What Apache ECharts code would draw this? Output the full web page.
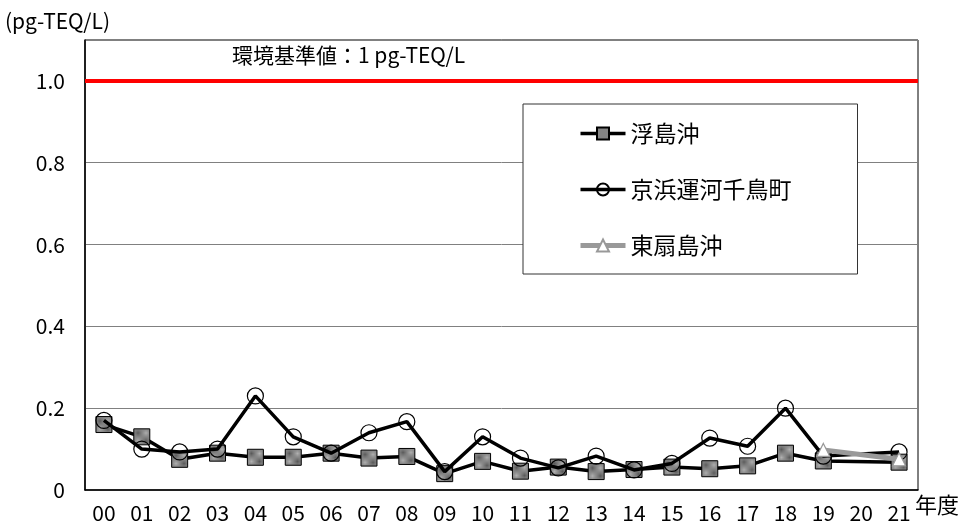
<!DOCTYPE html>
<html><head><meta charset="utf-8">
<script src="https://cdn.jsdelivr.net/npm/echarts@6/dist/echarts.min.js"></script>
<style>html,body{margin:0;padding:0;background:#fff}#c{width:963px;height:526px}</style>
</head><body><div id="c"></div>
<script>
const years = ['00','01','02','03','04','05','06','07','08','09','10','11','12','13','14','15','16','17','18','19','20','21'];
const ukishima = [0.16,0.13,0.075,0.09,0.08,0.08,0.09,0.078,0.082,0.04,0.07,0.046,0.056,0.045,0.05,0.056,0.052,0.059,0.09,0.071,null,0.068];
const chidori = [0.17,0.10,0.093,0.10,0.23,0.13,0.09,0.14,0.167,0.045,0.13,0.078,0.054,0.083,0.049,0.065,0.127,0.107,0.20,0.083,null,0.093];
const higashi = [null,null,null,null,null,null,null,null,null,null,null,null,null,null,null,null,null,null,null,0.098,null,0.075];
const seriesNames = ['浮島沖','京浜運河千鳥町','東扇島沖'];
const standardValue = 1.0;
const standardLabel = '環境基準値：1 pg-TEQ/L';
const yUnit = '(pg-TEQ/L)';
const xUnit = '年度';

const FONT = '"Noto Sans CJK JP", sans-serif';
// checkered pattern for square markers
const pc = document.createElement('canvas');
pc.width = 2; pc.height = 2;
const pctx = pc.getContext('2d');
pctx.fillStyle = '#b0b0b0'; pctx.fillRect(0,0,2,2);
pctx.fillStyle = '#5a5a5a'; pctx.fillRect(0,0,1,1); pctx.fillRect(1,1,1,1);
const pattern = {image: pc, repeat: 'repeat'};

const chart = echarts.init(document.getElementById('c'), null, {renderer: 'canvas'});
chart.setOption({
  animation: false,
  backgroundColor: '#fff',
  textStyle: {fontFamily: FONT, color: '#000'},
  grid: {left: 85, right: 45, top: 40, bottom: 36, show: true, borderColor: '#000', borderWidth: 1},
  xAxis: {
    type: 'category', data: years, boundaryGap: true,
    axisLine: {lineStyle: {color: '#000', width: 1.5}},
    axisTick: {inside: true, length: 6, lineStyle: {color: '#000'}},
    axisLabel: {fontSize: 21, color: '#000', margin: 13, fontFamily: FONT, interval: 0}
  },
  yAxis: {
    type: 'value', min: 0, max: 1.1, interval: 0.2,
    axisLine: {show: true, lineStyle: {color: '#000', width: 1.5}},
    axisTick: {show: false},
    splitLine: {lineStyle: {color: '#808080', width: 1}},
    axisLabel: {fontSize: 21, color: '#000', margin: 20, fontFamily: FONT,
      formatter: v => v > 1.05 ? '' : (v === 0 ? '0' : v.toFixed(1))}
  },
  legend: {
    orient: 'vertical', left: 523, top: 104,
    data: [
      {name: seriesNames[0], lineStyle: {width: 3.5, color: '#000'}},
      {name: seriesNames[1], lineStyle: {width: 3.5, color: '#000'}},
      {name: seriesNames[2], lineStyle: {width: 5, color: '#999'}}
    ],
    backgroundColor: '#fff', borderColor: '#333', borderWidth: 1,
    padding: [18, 66, 17, 55],
    itemWidth: 45, itemHeight: 15, itemGap: 33,
    textStyle: {fontSize: 23, color: '#000', fontFamily: FONT}
  },
  graphic: [
    {type: 'text', left: 5, top: 11, style: {text: yUnit, font: '21px ' + FONT, fill: '#000'}},
    {type: 'text', left: 232, top: 45, style: {text: standardLabel, font: '21px ' + FONT, fill: '#000'}},
    {type: 'text', left: 915, top: 494, style: {text: xUnit, font: '22px ' + FONT, fill: '#000'}}
  ],
  series: [
    {
      name: seriesNames[0], type: 'line', data: ukishima, connectNulls: true,
      symbol: 'rect', symbolSize: 16,
      lineStyle: {color: '#000', width: 3.5},
      itemStyle: {color: pattern, borderColor: '#000', borderWidth: 1},
      markLine: {
        silent: true, symbol: 'none', label: {show: false},
        lineStyle: {color: '#ff0000', width: 4, type: 'solid'},
        data: [{yAxis: standardValue}]
      },
      z: 3
    },
    {
      name: seriesNames[1], type: 'line', data: chidori, connectNulls: true,
      symbol: 'circle', symbolSize: 16,
      lineStyle: {color: '#000', width: 3.5},
      itemStyle: {color: 'rgba(255,255,255,0)', borderColor: '#000', borderWidth: 1.2},
      z: 4
    },
    {
      name: seriesNames[2], type: 'line', data: higashi, connectNulls: true,
      symbol: 'triangle', symbolSize: 13,
      lineStyle: {color: '#999', width: 5},
      itemStyle: {color: '#fff', borderColor: '#999', borderWidth: 1.2},
      z: 5
    }
  ]
});
</script></body></html>
